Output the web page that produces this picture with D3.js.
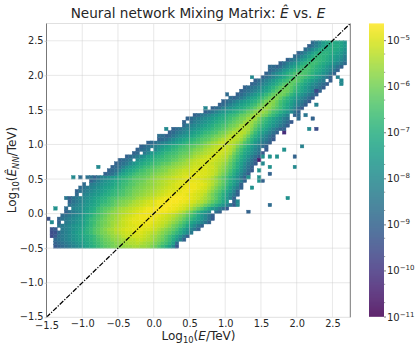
<!DOCTYPE html>
<html>
<head>
<meta charset="utf-8">
<script src="https://d3js.org/d3.v7.min.js"></script>
<style>
  html, body { margin: 0; padding: 0; background: #fff; }
  svg { display: block; font-family: "DejaVu Sans", sans-serif; }
  text { fill: #262626; }
</style>
</head>
<body>
<div id="chart"></div>
<script>
// Bin widths of the histogram, in log10 units
const binWidthX = 0.05;
const binWidthY = 0.05;
const firstBinX = -1.5;
const firstBinY = -0.5;

const xTicks = [-1.5, -1.0, -0.5, 0.0, 0.5, 1.0, 1.5, 2.0, 2.5];
const yTicks = [-1.5, -1.0, -0.5, 0.0, 0.5, 1.0, 1.5, 2.0, 2.5];
const colorExps = [-5, -6, -7, -8, -9, -10, -11];
const minorSubs = [2, 5];

// First filled column of every row, bottom row first
const rowStart = [
  2, 2, 2, 1, 1, 1, 3, 3, 3, 4,
  5, 5, 6, 6, 7, 8, 8, 9, 10, 12,
  13, 16, 17, 18, 19, 20, 22, 24, 25, 26,
  28, 31, 33, 34, 35, 37, 38, 39, 41, 44,
  46, 48, 49, 52, 53, 54, 55, 57, 58, 60,
  61, 62, 64, 65, 67, 69, 70, 72, 73, 74
];

const rowLevels = [
  [92,90,88,86,84,82,80,78,75,73,71,69,67,65,63,62,60,59,58,57,56,56,55,55,56,56,57,59,61,64,67,70,74,80,93],
  [90,88,86,84,82,80,78,76,74,72,70,68,66,64,62,61,60,58,57,56,55,54,54,53,54,55,56,57,59,61,64,66,69,74,88],
  [88,86,84,82,80,78,76,74,73,71,69,67,65,63,61,60,58,57,56,55,54,53,53,52,52,53,54,55,57,59,61,64,67,71,76,82,90],
  [96,92,86,84,82,80,78,76,74,72,71,69,67,64,62,60,59,57,56,55,53,52,52,51,51,51,52,53,55,56,58,60,63,66,69,73,78,84,91],
  [95,94,88,84,82,80,77,75,73,71,69,67,64,62,60,59,57,56,54,53,52,51,51,50,50,50,51,52,53,54,56,58,60,62,65,68,71,75,79,84,91],
  [94,92,88,84,82,80,78,76,74,72,69,67,64,62,60,58,56,55,53,52,51,50,50,49,49,49,50,50,51,52,54,56,58,60,62,65,69,73,77,81,85,90],
  [86,84,82,80,78,76,75,73,70,68,65,63,61,59,58,56,54,53,52,51,50,50,49,49,49,49,50,51,52,53,55,57,60,62,65,68,72,76,80,85,90],
  [90,0,84,82,80,78,76,74,71,68,66,63,61,60,58,56,55,53,52,51,50,49,49,49,48,48,49,50,51,52,53,55,57,59,62,65,68,72,75,78,81,85,90],
  [90,86,84,82,80,78,76,74,71,68,66,64,62,60,58,57,55,54,52,51,50,49,49,48,48,48,48,49,50,51,52,53,55,57,59,62,65,68,71,74,77,81,86,92],
  [88,86,84,82,80,78,75,72,70,67,65,63,61,59,57,56,54,53,52,51,50,49,48,48,48,48,48,49,50,51,52,53,55,57,59,62,65,68,72,76,80,85,91],
  [90,86,84,82,80,76,74,71,69,66,64,62,60,58,57,55,54,53,52,51,50,49,48,48,48,47,47,48,48,49,50,51,53,55,58,61,65,69,73,76,80,84,87,90],
  [88,84,82,80,79,77,75,72,70,67,65,63,62,60,58,56,55,54,53,52,51,50,49,48,48,47,47,47,47,48,48,49,50,51,53,55,58,61,64,68,72,76,79,83,87,92],
  [86,84,82,80,78,76,74,72,70,67,66,65,63,61,59,58,57,55,54,53,52,51,50,50,49,48,48,47,47,48,48,49,50,51,52,54,56,58,61,64,67,70,74,77,81,86,92],
  [90,86,84,82,79,77,75,73,71,69,68,66,64,62,60,59,58,57,55,54,53,52,51,50,49,48,48,47,47,47,47,48,48,49,50,51,53,54,56,59,62,65,68,72,76,0,90],
  [86,84,82,80,78,76,74,72,70,69,67,65,64,62,61,60,59,58,56,55,54,53,52,51,50,49,48,48,47,47,47,48,48,49,50,51,53,55,57,60,63,67,71,76,82,90],
  [88,85,82,80,78,76,75,73,71,70,68,67,65,64,62,61,59,58,57,56,55,54,53,52,51,50,49,48,48,48,48,49,49,50,51,52,54,57,60,63,66,70,74,80,85,90],
  [90,86,84,82,80,78,76,75,73,71,69,68,66,65,63,62,60,59,58,57,56,55,54,53,52,51,50,50,49,49,48,48,48,49,50,51,52,55,58,61,64,68,72,76,82,90],
  [88,86,84,82,80,78,76,74,73,71,69,68,66,64,63,61,60,59,58,57,56,55,54,53,52,51,51,50,49,49,48,48,48,49,50,51,53,56,59,62,65,69,74,79,84,90],
  [88,86,84,82,80,78,76,75,73,71,69,67,66,64,63,61,60,59,58,57,56,55,54,53,52,51,50,50,49,49,48,48,49,49,50,52,54,57,60,63,67,71,75,80,90],
  [90,86,83,80,78,76,74,72,70,68,67,65,63,62,61,60,58,57,56,55,54,53,52,52,51,50,50,49,49,49,49,50,51,52,54,56,59,62,66,70,74,78,83,90],
  [90,86,82,80,78,76,74,71,69,68,66,64,63,62,61,60,58,57,56,55,54,53,52,51,51,50,49,49,49,50,50,51,52,54,57,60,63,66,70,74,79,84,90],
  [90,88,86,82,76,73,71,69,67,65,64,63,62,60,59,58,57,56,55,54,53,52,51,51,50,50,49,50,50,51,52,54,57,60,63,67,71,76,81,86,91],
  [90,88,86,82,77,74,72,70,68,66,65,63,62,61,60,59,58,56,55,54,53,52,52,51,50,50,50,50,51,52,53,56,58,61,65,69,73,78,83,88,92],
  [90,88,86,82,78,75,73,71,69,67,66,64,63,62,60,59,58,57,56,55,54,53,52,51,51,50,50,51,51,53,55,57,60,63,67,71,76,81,86,91],
  [90,88,86,84,80,77,74,72,70,69,67,66,65,63,62,61,59,58,57,56,55,53,52,52,51,51,51,52,53,54,56,58,62,66,70,74,79,84,88,92],
  [90,88,86,84,81,78,75,73,71,70,68,67,66,65,64,62,61,59,58,56,54,53,52,51,51,50,51,52,53,54,56,60,64,68,72,76,81,86,91],
  [90,88,86,83,80,77,74,72,70,69,68,66,65,64,63,61,60,59,57,55,54,53,52,51,51,51,52,53,54,58,62,66,70,74,78,83,87,92],
  [90,88,86,84,80,76,74,72,70,68,67,66,65,63,62,61,59,57,56,55,54,53,52,51,51,52,53,55,60,64,68,72,75,79,83,87,92],
  [90,88,86,84,0,80,76,73,71,70,68,67,65,64,63,61,59,58,57,55,54,53,52,51,51,52,54,57,62,66,70,73,77,81,85,88,92],
  [90,88,86,84,82,79,76,74,72,70,69,67,66,64,63,62,60,59,57,56,54,53,52,52,52,53,55,59,63,67,71,75,79,83,87,91],
  [90,88,86,84,82,80,78,76,74,72,70,68,67,65,64,62,60,58,56,55,53,52,52,53,54,56,59,64,67,71,76,80,84,87,91],
  [90,88,86,83,80,77,75,73,71,69,68,66,64,63,62,59,58,56,54,53,52,53,54,56,60,65,69,73,77,81,84,88,92],
  [90,88,85,82,79,77,75,73,71,69,67,65,64,62,60,59,57,55,53,53,53,54,57,61,66,70,74,78,82,86,90],
  [90,88,85,83,81,78,76,74,72,70,68,67,65,64,61,60,58,56,54,54,53,54,57,62,67,71,74,78,82,86,90],
  [90,88,86,83,81,79,77,75,73,71,70,68,66,65,63,61,59,57,55,54,54,55,59,64,68,71,74,78,82,86,90],
  [90,88,84,82,80,78,76,74,72,70,68,67,65,64,61,60,58,55,54,55,57,61,65,68,71,74,77,80,84,87,91],
  [90,88,86,83,81,79,77,75,73,71,69,68,66,64,62,60,59,56,55,56,59,62,66,69,72,75,78,81,85,88,92],
  [90,88,85,83,81,79,77,75,73,71,70,68,66,64,62,60,59,56,55,56,60,64,67,70,73,76,79,83,86,90],
  [90,88,85,83,81,78,76,74,72,70,68,67,65,62,61,59,57,55,56,59,61,65,68,71,75,78,82,86,90],
  [90,88,85,82,79,77,75,73,71,69,67,65,62,61,58,56,56,58,61,65,67,70,73,76,80,85,90],
  [90,88,86,82,79,77,75,73,71,69,67,65,62,59,57,56,58,61,64,67,70,73,77,82,88,92],
  [90,88,85,82,79,76,74,72,70,68,66,62,60,58,57,59,62,66,69,72,75,79,83,87,91],
  [90,88,86,83,80,77,75,73,71,69,66,63,60,58,58,61,65,68,70,73,77,81,84,88,92],
  [90,87,84,81,77,74,72,69,67,64,61,59,59,62,66,69,72,75,78,81,84,88,92],
  [90,88,85,82,79,76,73,71,68,65,62,60,60,61,64,68,71,74,77,80,84,87,91],
  [90,88,86,84,81,78,76,73,70,66,63,61,60,61,64,68,70,73,76,79,83,86,90],
  [90,88,86,84,81,78,75,72,69,66,63,61,61,63,66,69,72,75,78,81,84,87,91],
  [90,88,85,82,79,76,73,70,67,64,62,62,64,68,70,73,76,79,82,85,88,91],
  [90,88,85,82,79,76,73,70,68,66,63,62,64,67,70,72,75,78,81,84,87,91],
  [90,87,84,81,78,75,72,69,67,64,64,65,67,69,71,74,77,81,85,90],
  [90,87,82,79,76,73,70,68,65,63,64,65,67,69,72,74,77,80,85,90],
  [90,87,84,81,77,74,71,69,67,65,65,66,68,70,72,75,78,81,85,90],
  [90,87,83,80,76,73,70,68,66,65,67,69,71,73,76,79,82,86,90],
  [90,87,83,80,77,74,71,69,67,66,67,69,71,73,75,78,81,84,88],
  [90,86,83,80,76,73,70,68,67,68,69,71,73,75,77,80,84],
  [88,85,81,78,74,71,68,68,69,70,72,74,76,78,83],
  [90,86,82,78,74,71,69,69,69,71,72,74,76,80],
  [88,84,80,76,72,70,70,70,71,72,74,78],
  [90,86,82,78,74,71,71,71,71,73,76],
  [88,84,80,75,73,71,71,72,73,77]
];

// Isolated cells outside the main band
const strayCols = [7, 9, 2, 0, 1, 5, 6, 11, 12, 14, 29, 33, 31, 32, 44, 57, 50, 51, 62, 63,
  81, 82, 82, 75, 75, 70, 70, 72, 74, 73, 75, 66, 66, 71, 66, 62, 64, 69, 60, 60, 59,
  62, 69, 59, 62, 56, 59, 59, 60, 57, 67, 62, 56, 53, 53];
const strayRows = [20, 20, 11, 8, 7, 14, 14, 20, 20, 23, 30, 34, 32, 32, 40, 49, 44, 43, 52, 52,
  49, 48, 47, 45, 41, 38, 37, 38, 37, 34, 34, 33, 34, 29, 28, 26, 26, 26, 26, 24, 25,
  23, 23, 22, 21, 20, 20, 19, 19, 17, 14, 12, 10, 13, 12];
const strayLevels = [80, 88, 78, 94, 80, 85, 90, 86, 86, 80, 88, 80, 87, 87, 81, 80, 88, 88, 88, 88,
  82, 80, 80, 96, 82, 88, 88, 85, 90, 80, 95, 102, 90, 82, 78, 78, 78, 90, 78, 80, 106,
  78, 80, 78, 90, 78, 78, 78, 90, 78, 78, 88, 90, 80, 80];

// White gaps along the jagged edges of the band
const emptyCols = [3, 26, 24, 39, 68, 68, 78, 46, 41, 6, 9, 11, 30, 37, 64, 60, 58];
const emptyRows = [5, 27, 25, 36, 37, 38, 48, 10, 4, 11, 15, 18, 31, 35, 31, 28, 22];

// Layout
const width = 415, height = 346;
const plot = {left: 46.5, right: 350.3, top: 23.5, bottom: 317.3};
const bar = {left: 369, right: 384, top: 23.5, bottom: 316.5};

const svg = d3.select('#chart').append('svg')
  .attr('width', width)
  .attr('height', height);

const x = d3.scaleLinear().domain([-1.5, 2.75]).range([plot.left, plot.right]);
const y = d3.scaleLinear().domain([-1.5, 2.75]).range([plot.bottom, plot.top]);
const color = d3.scaleSequentialLog(d3.interpolateViridis).domain([1e-11, 2.3e-5]);

function isEmpty(col, row) {
  return emptyCols.some((c, i) => c === col && emptyRows[i] === row);
}

function drawCell(col, row, level) {
  if (!level || isEmpty(col, row)) return;
  const x0 = firstBinX + col * binWidthX;
  const y0 = firstBinY + row * binWidthY;
  const fill = color(Math.pow(10, -level / 10));
  svg.append('rect')
    .attr('x', x(x0))
    .attr('y', y(y0 + binWidthY))
    .attr('width', x(x0 + binWidthX) - x(x0))
    .attr('height', y(y0) - y(y0 + binWidthY))
    .attr('fill', fill)
    .attr('stroke', fill)
    .attr('stroke-width', 0.4);
}

// Heat map cells
rowLevels.forEach((levels, r) => {
  levels.forEach((level, i) => drawCell(rowStart[r] + i, r, level));
});
strayCols.forEach((col, i) => drawCell(col, strayRows[i], strayLevels[i]));

// Grid sits over the cells
const grid = svg.append('g').attr('stroke', '#cccccc').attr('stroke-opacity', 0.45).attr('stroke-width', 1);
xTicks.slice(1).forEach(t => {
  grid.append('line').attr('x1', x(t)).attr('x2', x(t)).attr('y1', plot.top).attr('y2', plot.bottom);
});
yTicks.slice(1).forEach(t => {
  grid.append('line').attr('x1', plot.left).attr('x2', plot.right).attr('y1', y(t)).attr('y2', y(t));
});

// Diagonal E = E_hat
svg.append('line')
  .attr('x1', x(-1.5)).attr('y1', y(-1.5))
  .attr('x2', x(2.75)).attr('y2', y(2.75))
  .attr('stroke', '#000')
  .attr('stroke-width', 1.25)
  .attr('stroke-dasharray', '5 1.5 1.2 1.5');

// Frame
svg.append('line').attr('x1', plot.left).attr('x2', plot.right).attr('y1', plot.top).attr('y2', plot.top)
  .attr('stroke', '#e0e0e0');
svg.append('line').attr('x1', plot.left).attr('x2', plot.right).attr('y1', plot.bottom).attr('y2', plot.bottom)
  .attr('stroke', '#e0e0e0');
svg.append('line').attr('x1', plot.left).attr('x2', plot.left).attr('y1', plot.top).attr('y2', plot.bottom)
  .attr('stroke', '#777').attr('stroke-width', 1);
svg.append('line').attr('x1', plot.right).attr('x2', plot.right).attr('y1', plot.top).attr('y2', plot.bottom)
  .attr('stroke', '#777').attr('stroke-width', 1);

// Axes
const fmt = d => d3.format('.1f')(d).replace('-', '\u2212');
const xAxis = svg.append('g')
  .attr('transform', `translate(0,${plot.bottom})`)
  .call(d3.axisBottom(x).tickValues(xTicks).tickFormat(fmt).tickSize(0).tickPadding(3));
const yAxis = svg.append('g')
  .attr('transform', `translate(${plot.left},0)`)
  .call(d3.axisLeft(y).tickValues(yTicks).tickFormat(fmt).tickSize(2).tickPadding(1));
[xAxis, yAxis].forEach(a => {
  a.select('.domain').remove();
  a.selectAll('text').style('font-size', '9.8px').style('font-family', '"DejaVu Sans"');
  a.selectAll('line').attr('stroke', '#cccccc');
});
// The two -1.5 labels sit close in the corner, as in the source figure
xAxis.selectAll('.tick').filter(d => d === -1.5).select('text').attr('dy', '0.9em');
yAxis.selectAll('.tick').filter(d => d === -1.5).select('text').attr('dy', '0.2em');

// Title
const title = svg.append('text')
  .attr('x', 198).attr('y', 18)
  .attr('text-anchor', 'middle')
  .style('font-size', '13.6px');
title.append('tspan').text('Neural network Mixing Matrix: ');
title.append('tspan').style('font-style', 'italic').text('\u00CA');
title.append('tspan').text(' vs. ');
title.append('tspan').style('font-style', 'italic').text('E');

// x label
const xLabel = svg.append('text')
  .attr('x', 198.5).attr('y', 340)
  .attr('text-anchor', 'middle')
  .style('font-size', '12px');
xLabel.append('tspan').text('Log');
xLabel.append('tspan').attr('dy', 2.5).style('font-size', '8.4px').text('10');
xLabel.append('tspan').attr('dy', -2.5).text('(');
xLabel.append('tspan').style('font-style', 'italic').text('E');
xLabel.append('tspan').text('/TeV)');

// y label
const yLabel = svg.append('text')
  .attr('transform', `translate(16,170) rotate(-90)`)
  .attr('text-anchor', 'middle')
  .style('font-size', '12px');
yLabel.append('tspan').text('Log');
yLabel.append('tspan').attr('dy', 2.5).style('font-size', '8.4px').text('10');
yLabel.append('tspan').attr('dy', -2.5).text('(');
yLabel.append('tspan').style('font-style', 'italic').text('\u00CA');
yLabel.append('tspan').attr('dy', 2.5).style('font-size', '8.4px').style('font-style', 'italic').text('NN');
yLabel.append('tspan').attr('dy', -2.5).text('/TeV)');

// Colour bar
const barScale = d3.scaleLog().domain([1e-11, 2.3e-5]).range([bar.bottom, bar.top]);
const barSteps = d3.range(bar.top, bar.bottom, 1);
svg.append('g').selectAll('rect')
  .data(barSteps)
  .enter()
  .append('rect')
  .attr('x', bar.left)
  .attr('y', d => d)
  .attr('width', bar.right - bar.left)
  .attr('height', 1.2)
  .attr('fill', d => color(barScale.invert(d + 0.5)));

const barAxis = svg.append('g')
  .attr('transform', `translate(${bar.right},0)`)
  .call(d3.axisRight(barScale)
    .tickValues(colorExps.map(e => Math.pow(10, e)))
    .tickFormat('')
    .tickSize(2));
barAxis.select('.domain').remove();
barAxis.selectAll('line').attr('stroke', '#777');

// Minor ticks on the colour bar
colorExps.slice(1).forEach(e => {
  minorSubs.forEach(s => {
    const py = barScale(s * Math.pow(10, e));
    svg.append('line')
      .attr('x1', bar.right).attr('x2', bar.right + 1.2)
      .attr('y1', py).attr('y2', py)
      .attr('stroke', '#999');
  });
});

colorExps.forEach(e => {
  const label = svg.append('text')
    .attr('x', bar.right + 3)
    .attr('y', barScale(Math.pow(10, e)) + 4)
    .style('font-size', '10px');
  label.append('tspan').text('10');
  label.append('tspan').attr('dy', -4).style('font-size', '7px').text('\u2212' + Math.abs(e));
});
</script>
</body>
</html>
